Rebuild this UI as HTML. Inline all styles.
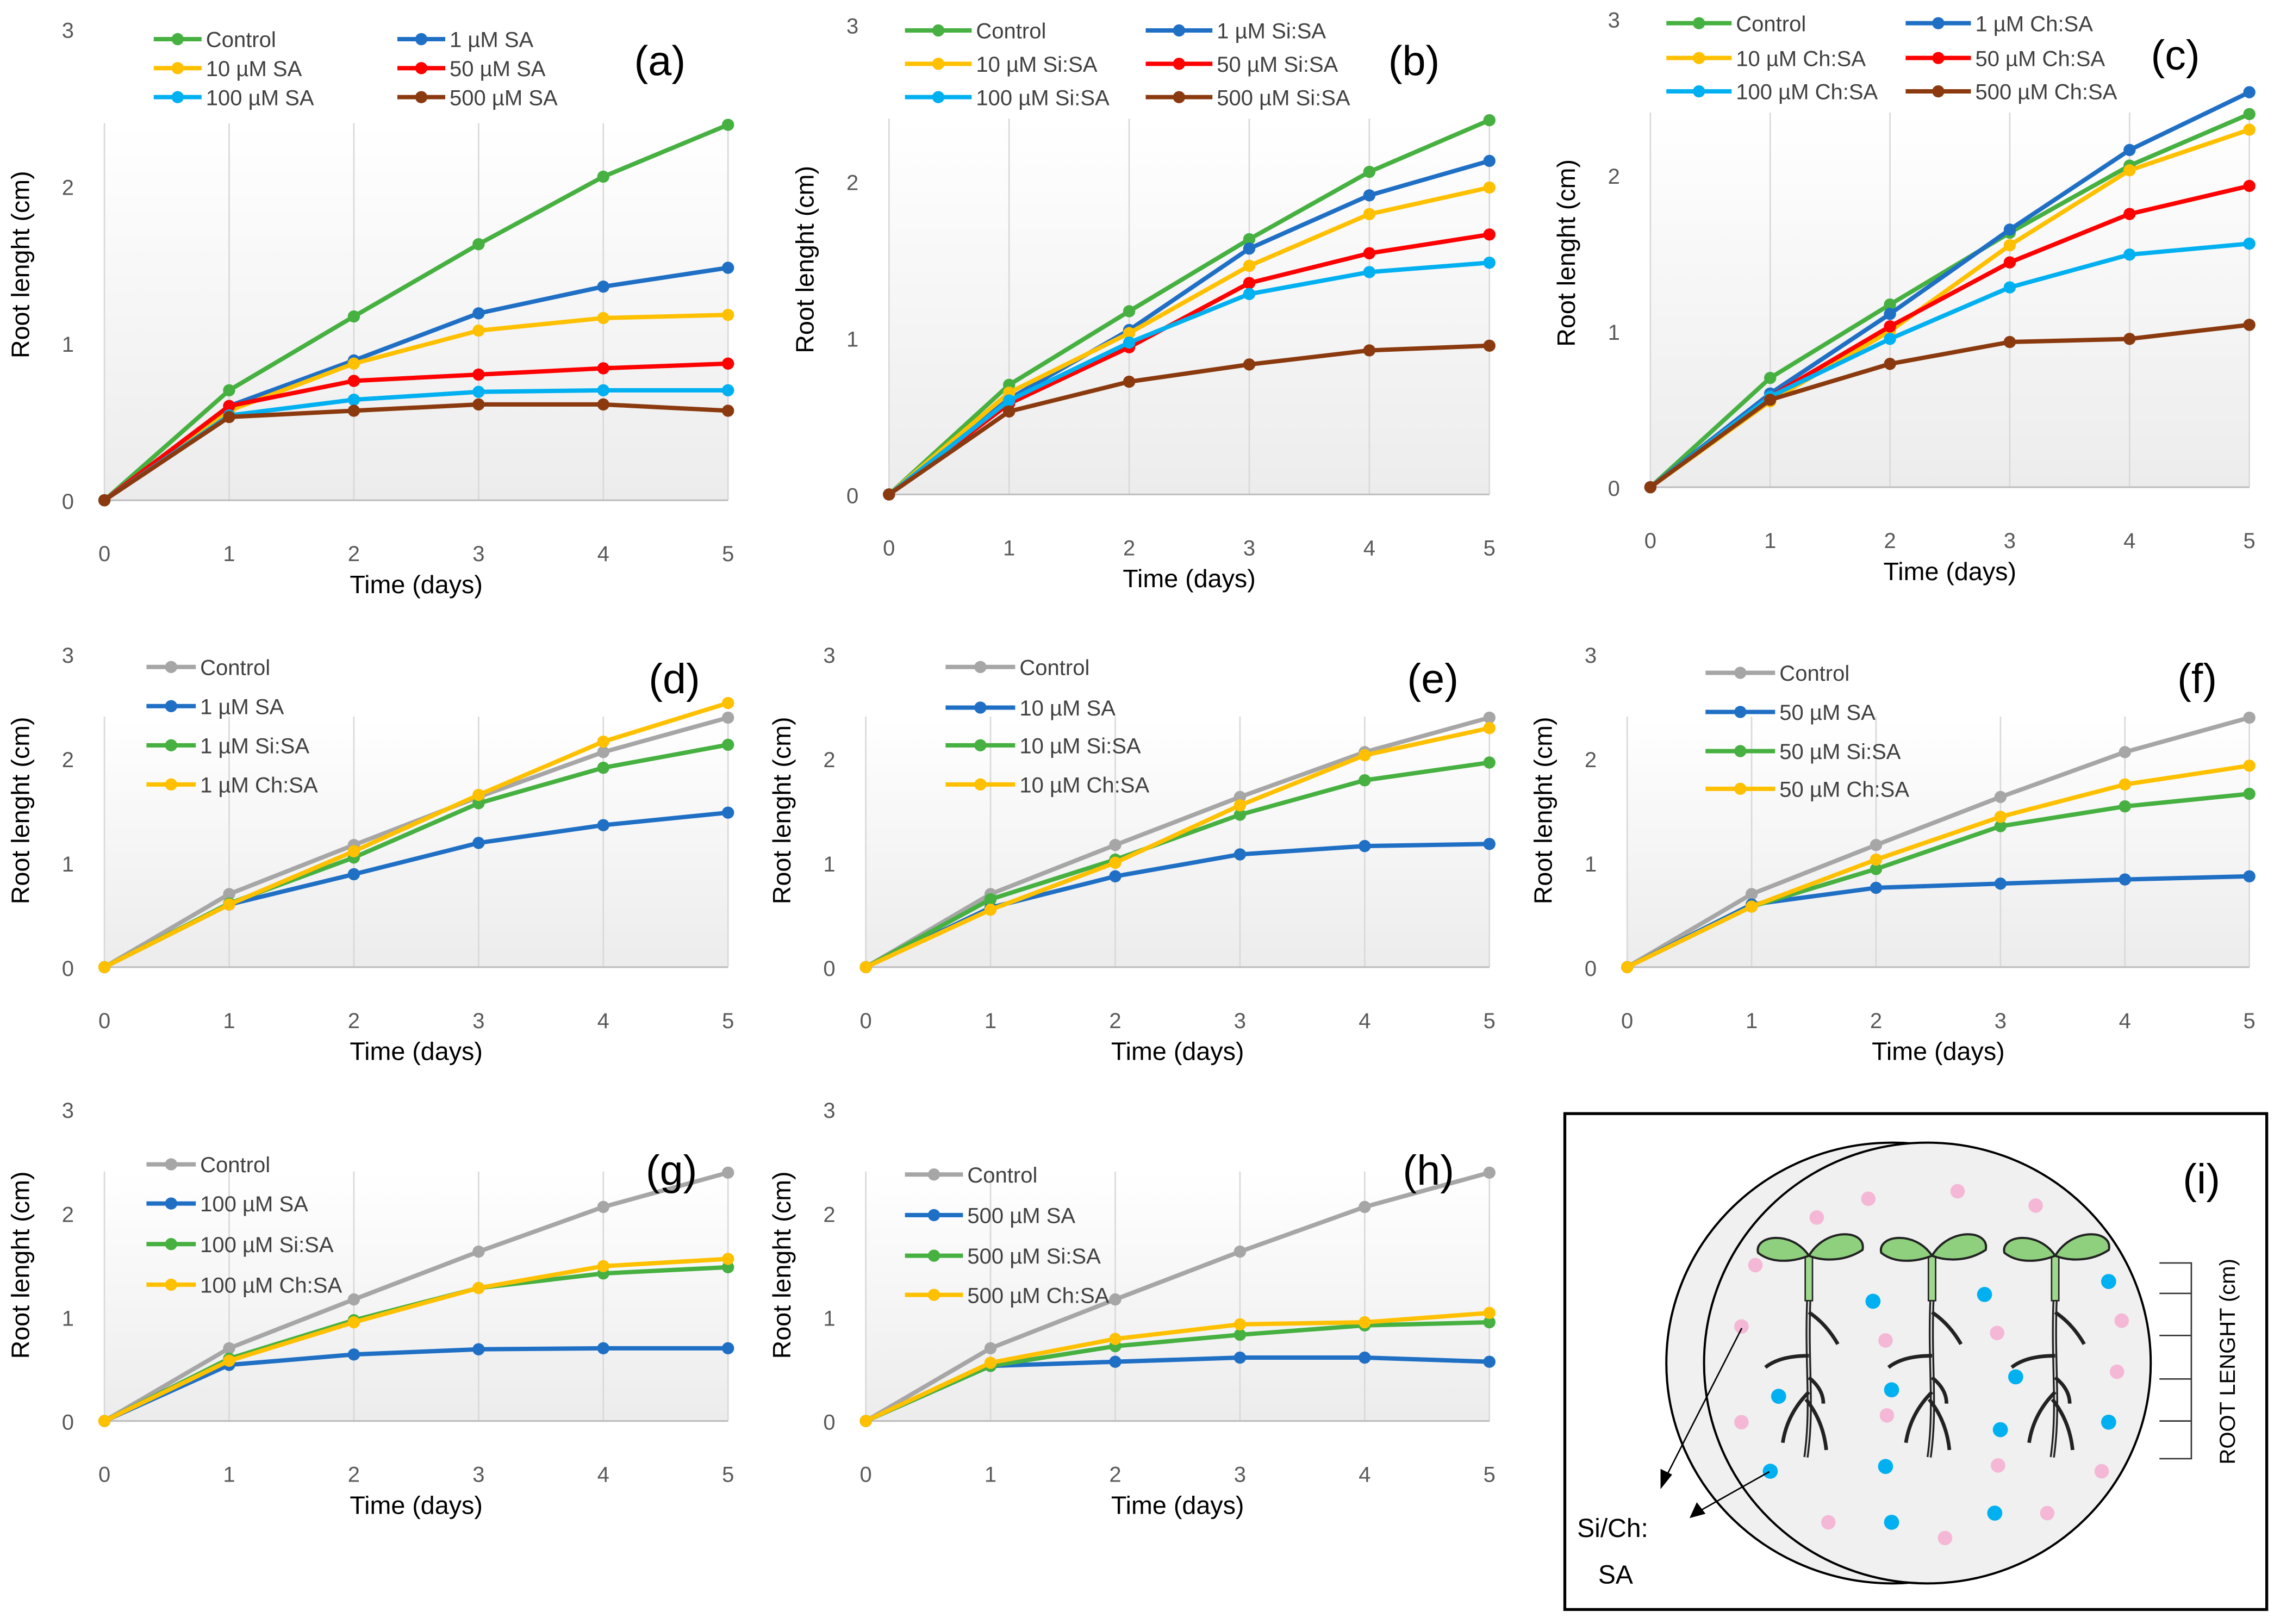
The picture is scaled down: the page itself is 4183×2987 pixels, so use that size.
<!DOCTYPE html>
<html><head><meta charset="utf-8">
<style>
html,body{margin:0;padding:0;background:#fff;}
svg{display:block;font-family:"Liberation Sans",sans-serif;}
</style></head>
<body>
<svg id="fig" width="4183" height="2987" viewBox="0 0 1568 1120" preserveAspectRatio="none" xmlns="http://www.w3.org/2000/svg">
<defs>
<linearGradient id="bg" x1="0" y1="0" x2="0" y2="1"><stop offset="0" stop-color="#ffffff"/><stop offset="1" stop-color="#ececec"/></linearGradient>
</defs>
</svg>
<script>
const days=[0,1,2,3,4,5];
const yTicks=[0,1,2,3];
const ctrl=[0,0.70,1.17,1.63,2.06,2.39];
const sa1=[0,0.60,0.89,1.19,1.36,1.48];
const sa10=[0,0.57,0.87,1.08,1.16,1.18];
const sa50=[0,0.60,0.76,0.80,0.84,0.87];
const sa100=[0,0.54,0.64,0.69,0.70,0.70];
const sa500=[0,0.53,0.57,0.61,0.61,0.57];
const si1=[0,0.61,1.05,1.57,1.91,2.13];
const si10=[0,0.65,1.03,1.46,1.79,1.96];
const si50=[0,0.58,0.94,1.35,1.54,1.66];
const si100=[0,0.60,0.97,1.28,1.42,1.48];
const si500=[0,0.53,0.72,0.83,0.92,0.95];
const ch1=[0,0.60,1.11,1.65,2.16,2.53];
const ch10=[0,0.55,1.00,1.55,2.03,2.29];
const ch50=[0,0.58,1.03,1.44,1.75,1.93];
const ch100=[0,0.58,0.95,1.28,1.49,1.56];
const ch500=[0,0.56,0.79,0.93,0.95,1.04];

const G='#46b041',B='#1f6fc5',Y='#ffc000',R='#ff0000',C='#00b0f0',BR='#8b3a0f',GR='#a6a6a6';
const NS='http://www.w3.org/2000/svg';
const svg=document.getElementById('fig');
function mk(tag,attrs,parent){const e=document.createElementNS(NS,tag);for(const k in attrs)e.setAttribute(k,attrs[k]);(parent||svg).appendChild(e);return e;}

const panels=[
 {id:'a',x0:72,x5:502,y0:345,y3:20,lab:[455,42],leg:{cols:[[112,145],[280,313]],rows:[27,47,67]},
  series:[['Control',ctrl,G],['1 µM SA',sa1,B],['10 µM SA',sa10,Y],['50 µM SA',sa50,R],['100 µM SA',sa100,C],['500 µM SA',sa500,BR]],two:true},
 {id:'b',x0:613,x5:1027,y0:341,y3:17,lab:[975,42],leg:{cols:[[630,676],[796,842]],rows:[21,44,67]},
  series:[['Control',ctrl,G],['1 µM Si:SA',si1,B],['10 µM Si:SA',si10,Y],['50 µM Si:SA',si50,R],['100 µM Si:SA',si100,C],['500 µM Si:SA',si500,BR]],two:true},
 {id:'c',x0:1138,x5:1551,y0:336,y3:13,lab:[1500,38],leg:{cols:[[1155,1200],[1320,1365]],rows:[16,40,63]},
  series:[['Control',ctrl,G],['1 µM Ch:SA',ch1,B],['10 µM Ch:SA',ch10,Y],['50 µM Ch:SA',ch50,R],['100 µM Ch:SA',ch100,C],['500 µM Ch:SA',ch500,BR]],two:true},
 {id:'d',x0:72,x5:502,y0:667,y3:451,lab:[465,468],leg:{cols:[[107,141]],rows:[460,487,514,541]},
  series:[['Control',ctrl,GR],['1 µM SA',sa1,B],['1 µM Si:SA',si1,G],['1 µM Ch:SA',ch1,Y]]},
 {id:'e',x0:597,x5:1027,y0:667,y3:451,lab:[988,468],leg:{cols:[[658,706]],rows:[460,488,514,541]},
  series:[['Control',ctrl,GR],['10 µM SA',sa10,B],['10 µM Si:SA',si10,G],['10 µM Ch:SA',ch10,Y]]},
 {id:'f',x0:1122,x5:1551,y0:667,y3:451,lab:[1515,468],leg:{cols:[[1182,1230]],rows:[464,491,518,544]},
  series:[['Control',ctrl,GR],['50 µM SA',sa50,B],['50 µM Si:SA',si50,G],['50 µM Ch:SA',ch50,Y]]},
 {id:'g',x0:72,x5:502,y0:980,y3:765,lab:[463,807],leg:{cols:[[107,141]],rows:[803,830,858,886]},
  series:[['Control',ctrl,GR],['100 µM SA',sa100,B],['100 µM Si:SA',si100,G],['100 µM Ch:SA',ch100,Y]]},
 {id:'h',x0:597,x5:1027,y0:980,y3:765,lab:[985,807],leg:{cols:[[630,670]],rows:[810,838,866,893]},
  series:[['Control',ctrl,GR],['500 µM SA',sa500,B],['500 µM Si:SA',si500,G],['500 µM Ch:SA',ch500,Y]]}
];

panels.forEach(p=>{
  const g=mk('g',{});
  
  
  const xs=d=>p.x0+(p.x5-p.x0)*d/5;
  const ys=v=>p.y0-(p.y0-p.y3)*v/3;
  const bgTop=ys(2.4);
  const bgr=mk('rect',{x:p.x0,y:bgTop,width:p.x5-p.x0,height:p.y0-bgTop,fill:'url(#bg)'},g);
  
  
  days.forEach(d=>{
    const l=mk('line',{x1:xs(d),x2:xs(d),y1:ys(2.4),y2:p.y0,stroke:'#d9d9d9','stroke-width':1},g);
    
    
    const t=mk('text',{x:xs(d),y:p.y0+42,'font-size':15,fill:'#595959','text-anchor':'middle'},g);
    t.textContent=d;
    
    
  });
  const ax=mk('line',{x1:p.x0,x2:p.x5,y1:p.y0,y2:p.y0,stroke:'#bfbfbf','stroke-width':1.2},g);
  
  
  yTicks.forEach(v=>{
    const t=mk('text',{x:p.x0-21,y:ys(v)+6,'font-size':15,fill:'#595959','text-anchor':'end'},g);
    t.textContent=v;
    
    
  });
  const xt=mk('text',{x:(p.x0+p.x5)/2,y:p.y0+64,'font-size':17.5,fill:'#000','text-anchor':'middle'},g);
  xt.textContent='Time (days)';
  
  
  const yc=(p.y0+p.y3)/2, yx=p.x0-52;
  const yt=mk('text',{x:yx,y:yc,'font-size':17.5,fill:'#000','text-anchor':'middle',transform:`rotate(-90 ${yx} ${yc})`},g);
  yt.textContent='Root lenght (cm)';
  
  
  p.series.forEach(s=>{
    const pts=s[1].map((v,i)=>xs(days[i])+','+ys(v)).join(' ');
    const pl=mk('polyline',{points:pts,fill:'none',stroke:s[2],'stroke-width':3,'stroke-linejoin':'round'},g);
    
    
    s[1].forEach((v,i)=>{
      const c=mk('circle',{cx:xs(days[i]),cy:ys(v),r:4.2,fill:s[2]},g);
      
      
    });
  });
  p.series.forEach((s,i)=>{
    let col,row;
    if(p.two){col=i%2;row=Math.floor(i/2);}else{col=0;row=i;}
    const lx=p.leg.cols[col][0], tx=p.leg.cols[col][1], ly=p.leg.rows[row];
    const lg=mk('g',{},g);
    
    
    mk('line',{x1:lx-6,x2:tx-6,y1:ly,y2:ly,stroke:s[2],'stroke-width':3},lg);
    mk('circle',{cx:(lx+tx-12)/2,cy:ly,r:4.2,fill:s[2]},lg);
    const t=mk('text',{x:tx-3,y:ly+5.5,'font-size':15,fill:'#404040'},lg);
    t.textContent=s[0];
  });
  const lb=mk('text',{x:p.lab[0],y:p.lab[1]+10,'font-size':29,fill:'#000','text-anchor':'middle'},g);
  lb.textContent='('+p.id+')';
  
  
});

// panel i (coordinates mapped from a zoomed reference sketch)
const X=zx=>1079+(zx-30)*0.3205;
const Yy=zy=>768+(zy-72)*0.2349;
const gi=mk('g',{});


mk('rect',{x:1079,y:768,width:484,height:342,fill:'#fff',stroke:'#000','stroke-width':2},gi);
mk('ellipse',{cx:1305,cy:940,rx:156,ry:152,fill:'#f0f0f0',stroke:'#000','stroke-width':1.5},gi);
mk('ellipse',{cx:1329,cy:940,rx:154,ry:152,fill:'#f0f0f0',stroke:'#000','stroke-width':1.5},gi);
const pinks=[[683,322],[875,300],[1043,342],[572,377],[440,517],[410,697],[720,738],[960,716],[1228,680],[1218,830],[723,958],[410,978],[962,1105],[1185,1122],[597,1272],[848,1318],[1068,1245]];
const blues=[[693,623],[933,603],[1200,565],[490,902],[733,883],[1000,845],[967,1000],[1200,978],[472,1122],[720,1108],[955,1245],[733,1272]];
pinks.forEach(q=>mk('circle',{cx:X(q[0]),cy:Yy(q[1]),r:5,fill:'#f4b8d6'},gi));
blues.forEach(q=>mk('circle',{cx:X(q[0]),cy:Yy(q[1]),r:5.2,fill:'#00b0f0'},gi));
[555,820,1085].forEach(zx=>{
  const px=X(zx);
  const pg=mk('g',{},gi);
  
  
  mk('path',{d:`M${px} 895 C${px-2} 940 ${px+3} 970 ${px-2} 1005`,stroke:'#222','stroke-width':3.5,fill:'none'},pg);
  mk('path',{d:`M${px} 895 C${px-2} 940 ${px+3} 970 ${px-2} 1005`,stroke:'#ddd','stroke-width':1,fill:'none'},pg);
  mk('path',{d:`M${px} 905 q12 8 20 22 M${px} 935 q-20 0 -30 8 M${px} 960 q-15 15 -18 35 M${px-2} 965 q12 15 14 35 M${px} 950 q10 8 10 18`,stroke:'#222','stroke-width':2.5,fill:'none'},pg);
  mk('rect',{x:px-2.5,y:866,width:5,height:31,fill:'#9ed88c',stroke:'#222','stroke-width':1},pg);
  mk('path',{d:`M${px} 866 C${px-12} 848 ${px-38} 852 ${px-35} 864 C${px-25} 872 ${px-10} 870 ${px} 866 Z`,fill:'#8fd07e',stroke:'#222','stroke-width':1.5},pg);
  mk('path',{d:`M${px} 866 C${px+12} 846 ${px+40} 848 ${px+37} 862 C${px+25} 870 ${px+10} 870 ${px} 866 Z`,fill:'#8fd07e',stroke:'#222','stroke-width':1.5},pg);
});
mk('path',{d:'M1201 916 L1148 1020',stroke:'#000','stroke-width':1},gi);
mk('path',{d:'M1145 1027 L1145 1013 L1153 1017 Z',fill:'#000'},gi);
mk('path',{d:'M1220 1015 L1172 1042',stroke:'#000','stroke-width':1},gi);
mk('path',{d:'M1165 1047 L1170 1036 L1176 1044 Z',fill:'#000'},gi);
const br=mk('path',{d:'M1489 871 L1511 871 L1511 1006 L1489 1006 M1489 892 L1511 892 M1489 921 L1511 921 M1489 951 L1511 951 M1489 980 L1511 980',stroke:'#333','stroke-width':1,fill:'none'},gi);


const rl=mk('text',{x:1541,y:939,'font-size':15,fill:'#000','text-anchor':'middle',transform:'rotate(-90 1541 939)'},gi);
rl.textContent='ROOT LENGHT (cm)';


const s1=mk('text',{x:1112,y:1060,'font-size':18,fill:'#000','text-anchor':'middle'},gi);
s1.textContent='Si/Ch:';


const s2=mk('text',{x:1114,y:1092,'font-size':18,fill:'#000','text-anchor':'middle'},gi);
s2.textContent='SA';


const li=mk('text',{x:1518,y:823,'font-size':29,fill:'#000','text-anchor':'middle'},gi);
li.textContent='(i)';


</script>
</body></html>
